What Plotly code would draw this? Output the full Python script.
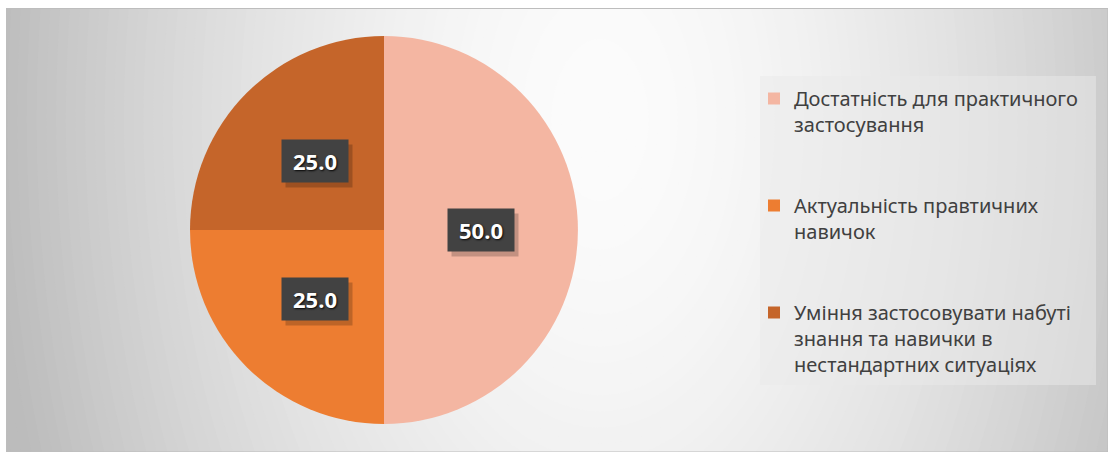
import math
import plotly.graph_objects as go

# ---- data ----
labels = [
    "Достатність для практичного<br>застосування",
    "Актуальність правтичних<br>навичок",
    "Уміння застосовувати набуті<br>знання та навички в<br>нестандартних ситуаціях",
]
values = [50.0, 25.0, 25.0]
colors = ["#F4B6A2", "#ED7D31", "#C5652A"]

W, H = 1108, 452


def fx(px):
    return px / W


def fy(py):
    return 1 - py / H


# pie geometry (pixels)
cx, cy, r = 384, 230, 194

# legend entries get blank spacer lines except the last
legend_labels = [lab + ("<br> <br> " if i < len(labels) - 1 else "") for i, lab in enumerate(labels)]

fig = go.Figure()
fig.add_trace(go.Pie(
    labels=legend_labels,
    values=values,
    marker=dict(colors=colors, line=dict(width=0)),
    sort=False,
    direction="clockwise",
    rotation=0,
    textinfo="none",
    hoverinfo="label+value",
    domain=dict(x=[fx(cx - r), fx(cx + r)], y=[fy(cy + r), fy(cy - r)]),
))

# ---- background radial gradient (decoration) ----
shapes = []
gcx, gcy = 600, 120
N = 70
dmax = 680
for i in range(N, 0, -1):
    d = dmax * i / N
    c = 252 - 62 * (d / 600) ** 1.7
    c = int(max(188, min(252, c)))
    col = f"rgb({c},{c},{c})"
    ry = d / 0.6
    shapes.append(dict(type="circle", xref="paper", yref="paper",
                       x0=fx(gcx - d), x1=fx(gcx + d), y0=fy(gcy + ry), y1=fy(gcy - ry),
                       fillcolor=col, line=dict(width=0), layer="below"))
# white strips outside chart area
shapes.append(dict(type="rect", xref="paper", yref="paper", x0=0, x1=1, y0=fy(8), y1=1.01,
                   fillcolor="white", line=dict(width=0), layer="below"))
shapes.append(dict(type="rect", xref="paper", yref="paper", x0=-0.01, x1=fx(6), y0=-0.01, y1=1.01,
                   fillcolor="white", line=dict(width=0), layer="below"))
shapes.append(dict(type="rect", xref="paper", yref="paper", x0=fx(6.5), x1=fx(1108), y0=fy(452), y1=fy(8.5),
                   fillcolor="rgba(0,0,0,0)", line=dict(width=1, color="#BDBDBD"), layer="below"))
# legend box
shapes.append(dict(type="rect", xref="paper", yref="paper", x0=fx(760), x1=fx(1096), y0=fy(385), y1=fy(76),
                   fillcolor="rgba(234,234,234,0.5)", line=dict(width=0), layer="below"))

# ---- data labels at half radius of each slice ----
annotations = []
total = sum(values)
cum = 0.0
for v in values:
    frac = (cum + v / 2) / total
    cum += v
    th = 2 * math.pi * frac
    px = cx + 0.5 * r * math.sin(th)
    py = cy - 0.5 * r * math.cos(th)
    txt = f"{v:.1f}"
    annotations.append(dict(x=fx(px), y=fy(py), xref="paper", yref="paper", text=" ",
                            showarrow=False, xanchor="center", yanchor="middle",
                            width=52, height=28, borderpad=7, xshift=4, yshift=-5,
                            bgcolor="rgba(0,0,0,0.2)", font=dict(size=22)))
    annotations.append(dict(x=fx(px), y=fy(py), xref="paper", yref="paper",
                            text=f"<b>{txt}</b>", showarrow=False,
                            xanchor="center", yanchor="middle",
                            width=52, height=28, borderpad=7,
                            bgcolor="#424242",
                            font=dict(size=22, color="white", family="Open Sans",
                                      shadow="1px 1px 2px rgba(0,0,0,0.9)")))

fig.update_layout(
    width=W, height=H,
    margin=dict(l=0, r=0, t=0, b=0),
    paper_bgcolor="white",
    plot_bgcolor="rgba(0,0,0,0)",
    showlegend=True,
    legend=dict(
        x=fx(754), y=fy(79), xanchor="left", yanchor="top",
        bgcolor="rgba(0,0,0,0)", borderwidth=0,
        font=dict(family="Noto Sans", size=20, color="#404040"),
        valign="top",
    ),
    shapes=shapes,
    annotations=annotations,
)

fig.write_html(
    "out.html",
    config={"displayModeBar": False},
    post_script="document.body.style.margin='0';document.body.style.overflow='hidden';",
)
